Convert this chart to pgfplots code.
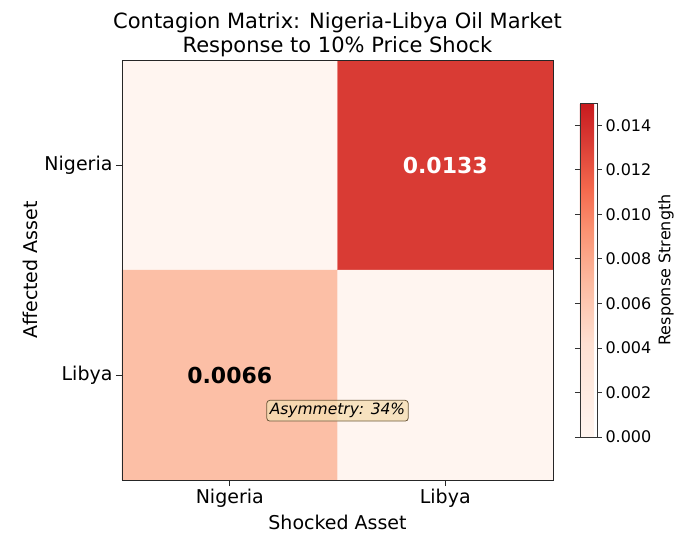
\documentclass[border=0pt]{standalone}
\usepackage{fontspec}
\setmainfont{DejaVu Sans}
\usepackage{pgfplots}
\pgfplotsset{compat=1.18}
\definecolor{wheatc}{RGB}{245,222,179}
\definecolor{boxedge}{RGB}{110,90,60}
\begin{document}
\begin{tikzpicture}
\path[use as bounding box] (-122pt,-62pt) rectangle (571pt,480pt);
\begin{axis}[
  at={(0pt,0pt)}, anchor=south west,
  scale only axis, width=431pt, height=420pt,
  xmin=-0.5, xmax=1.5, ymin=-0.5, ymax=1.5,
  y dir=reverse,
  axis on top,
  axis line style={black!85, line width=0.8pt},
  xtick={0,1}, xticklabels={Nigeria,Libya},
  ytick={0,1}, yticklabels={Nigeria,Libya},
  tick align=outside, xtick pos=bottom, ytick pos=left,
  major tick length=6pt,
  tick style={black!85, line width=0.8pt},
  tick label style={font=\fontsize{19}{22}\selectfont},
  /pgf/number format/assume math mode=true,
  xlabel={Shocked Asset}, ylabel={Affected Asset},
  label style={font=\fontsize{19}{22}\selectfont},
  title={Contagion Matrix: Nigeria-Libya Oil Market\\Response to 10\% Price Shock},
  title style={font=\fontsize{21}{24}\selectfont, align=center, yshift=-6pt},
  colormap={myreds}{rgb255(0cm)=(255,245,240); rgb255(28cm)=(254,224,210); rgb255(46cm)=(252,187,161); rgb255(62cm)=(250,146,114); rgb255(74cm)=(245,106,78); rgb255(88.7cm)=(217,59,52); rgb255(100cm)=(200,26,30)},
  point meta min=0, point meta max=0.015,
  colorbar,
  colorbar style={
    at={(1.0626,0.5)}, anchor=west,
    width=17pt, height=334pt,
    axis on top,
    ytick={0,0.002,0.004,0.006,0.008,0.010,0.012,0.014},
    scaled y ticks=false,
    yticklabel style={font=\fontsize{16}{19}\selectfont, /pgf/number format/.cd, fixed, fixed zerofill, precision=3, assume math mode=true},
    tick align=outside, major tick length=5pt,
    axis line style={black!80, line width=0.8pt},
    tick style={black!80, line width=0.8pt},
    ylabel={Response Strength},
    ylabel style={font=\fontsize{16}{19}\selectfont},
  },
]
\addplot[matrix plot*, mesh/cols=2, point meta=explicit] coordinates {
(0,0) [0] (1,0) [0.0133]
(0,1) [0.0066] (1,1) [0]
};
\node[text=white, font=\fontsize{22}{26}\selectfont\bfseries] at (axis cs:1,0) {0.0133};
\node[text=black, font=\fontsize{22}{26}\selectfont\bfseries] at (axis cs:0,1) {0.0066};
\node[font=\fontsize{15.5}{18}\selectfont\itshape, fill=wheatc, fill opacity=0.8, text opacity=1, draw=boxedge, rounded corners=3pt, inner sep=3pt, line width=0.8pt] at (axis cs:0.5,1.17) {Asymmetry: 34\%};
\end{axis}
\end{tikzpicture}
\end{document}
